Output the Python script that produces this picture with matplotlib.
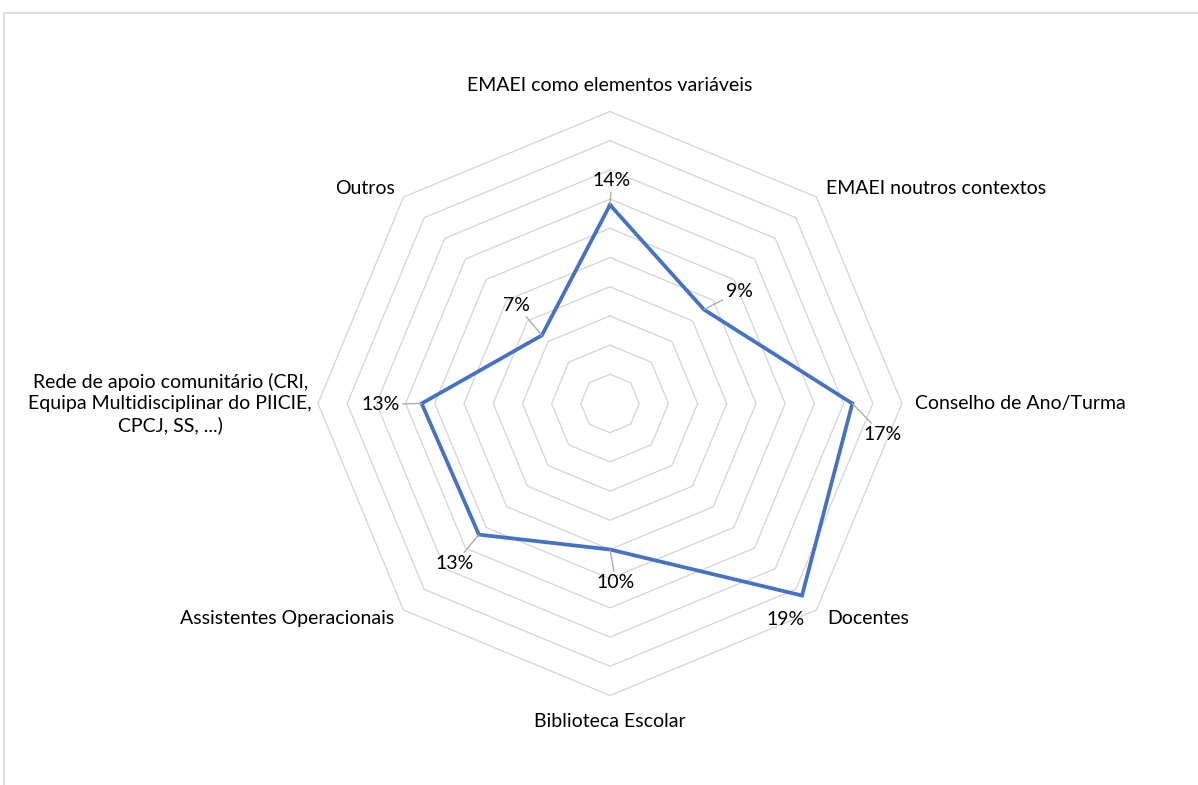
import numpy as np
import matplotlib
matplotlib.use("Agg")
import matplotlib.pyplot as plt
from matplotlib.patches import Rectangle

plt.rcParams['font.family'] = ['Lato', 'DejaVu Sans']

categories = [
    "EMAEI como elementos variáveis",
    "EMAEI noutros contextos",
    "Conselho de Ano/Turma",
    "Docentes",
    "Biblioteca Escolar",
    "Assistentes Operacionais",
    "Rede de apoio comunitário (CRI,\nEquipa Multidisciplinar do PIICIE,\nCPCJ, SS, ...)",
    "Outros",
]
values = [13.6, 9.1, 16.6, 18.6, 10.0, 12.7, 12.9, 6.6]
ring_levels = [2, 4, 6, 8, 10, 12, 14, 16, 18, 20]

# label placement (pixel offsets)
cat_offsets = [(0, 26), (10, 9), (13, 0), (11, -9), (0, -26), (-9, -9), (-6, 0), (-9, 9)]
cat_ha = ["center", "left", "left", "left", "center", "right", "right", "right"]
val_offsets = [(2, 24), (35, 18), (30, -31), (-16, -24), (6, -33), (-24, -29), (-41, -1), (-25, 30)]
show_leader = [True, True, True, False, True, True, True, True]

W, H = 1198, 785
CX, CY = 610, 403.5
PX = 14.6  # pixels per percent

fig = plt.figure(figsize=(W / 100, H / 100), dpi=100)
ax = fig.add_axes([0, 0, 1, 1])
ax.set_xlim(-CX / PX, (W - CX) / PX)
ax.set_ylim(-(H - CY) / PX, CY / PX)
ax.axis("off")

n = len(categories)
ang = np.pi / 2 - np.arange(n) * 2 * np.pi / n
ux, uy = np.cos(ang), np.sin(ang)

for r in ring_levels:
    ax.plot(np.append(ux, ux[0]) * r, np.append(uy, uy[0]) * r,
            color="#d4d4d4", lw=0.9, zorder=1)

v = np.array(values)
ax.plot(np.append(ux * v, ux[0] * v[0]), np.append(uy * v, uy[0] * v[0]),
        color="#4472c4", lw=2.7, solid_joinstyle="miter", zorder=3)

rmax = ring_levels[-1]
for i, name in enumerate(categories):
    ax.annotate(name, (ux[i] * rmax, uy[i] * rmax), xytext=cat_offsets[i],
                textcoords="offset pixels", ha=cat_ha[i], va="center",
                multialignment="center", fontsize=14, color="#000000",
                linespacing=1.3)

for i, val in enumerate(values):
    arrow = None
    if show_leader[i]:
        arrow = dict(arrowstyle="-", color="#a6a6a6", lw=0.9, shrinkA=0, shrinkB=0)
    ax.annotate(f"{round(val):.0f}%", (ux[i] * val, uy[i] * val),
                xytext=val_offsets[i], textcoords="offset pixels",
                ha="center", va="center", fontsize=14, color="#000000",
                arrowprops=arrow, zorder=4)

fig.patches.append(Rectangle((4 / W, -0.1), 1.2, 1 - 13 / H + 0.1,
                             transform=fig.transFigure, fill=False,
                             edgecolor="#d9d9d9", lw=1.2))

fig.savefig("out.png", dpi=100)
